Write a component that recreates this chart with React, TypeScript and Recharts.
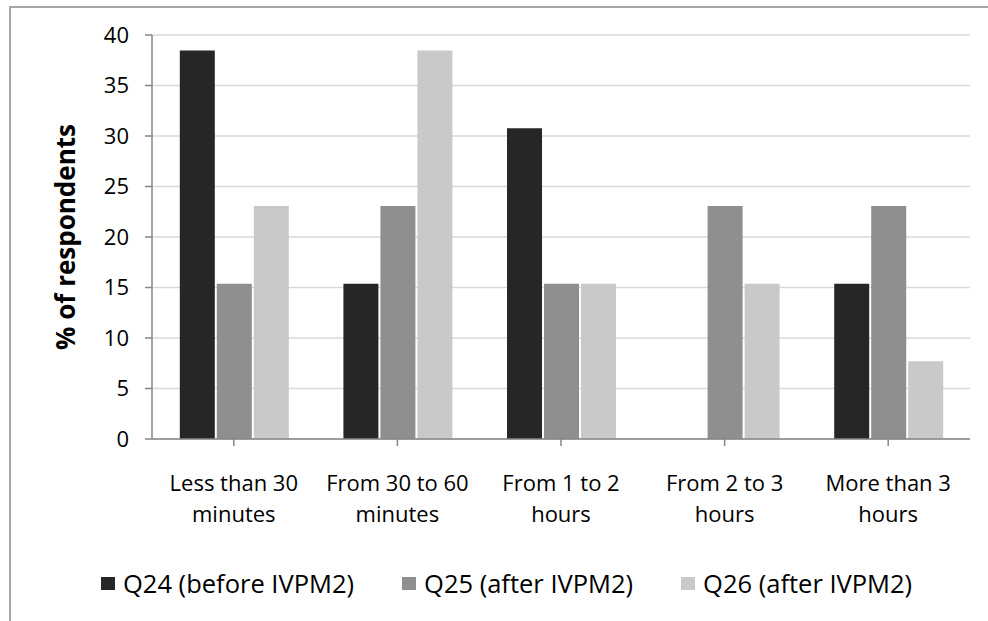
import React from 'react';
import { BarChart, Bar, XAxis, YAxis, CartesianGrid, Legend } from 'recharts';

const categories = [
  'Less than 30 minutes',
  'From 30 to 60 minutes',
  'From 1 to 2 hours',
  'From 2 to 3 hours',
  'More than 3 hours',
];
const tickLines = [
  ['Less than 30', 'minutes'],
  ['From 30 to 60', 'minutes'],
  ['From 1 to 2', 'hours'],
  ['From 2 to 3', 'hours'],
  ['More than 3', 'hours'],
];
const q24 = [38.46, 15.38, 30.77, 0, 15.38];
const q25 = [15.38, 23.08, 15.38, 23.08, 23.08];
const q26 = [23.08, 38.46, 15.38, 15.38, 7.69];
const yTicks = [0, 5, 10, 15, 20, 25, 30, 35, 40];

const series = [
  { dataKey: 'q24', name: 'Q24 (before IVPM2)', color: '#262626' },
  { dataKey: 'q25', name: 'Q25 (after IVPM2)', color: '#8f8f8f' },
  { dataKey: 'q26', name: 'Q26 (after IVPM2)', color: '#c9c9c9' },
];

const data = categories.map((name, i) => ({
  name,
  q24: q24[i],
  q25: q25[i],
  q26: q26[i],
}));

const FONT = '"Open Sans", sans-serif';

function CategoryTick(props: any) {
  const { x, y, payload } = props;
  const lines = tickLines[payload.index] ?? [payload.value];
  return (
    <text x={x} y={y + 43} textAnchor="middle" fill="#000" fontSize={22} fontFamily={FONT}>
      {lines.map((line, i) => (
        <tspan key={i} x={x} dy={i === 0 ? 0 : 31}>
          {line}
        </tspan>
      ))}
    </text>
  );
}

function LegendBox() {
  return (
    <div style={{ display: 'flex', alignItems: 'center', paddingLeft: 101, fontFamily: FONT, fontSize: 25.5, whiteSpace: 'nowrap' }}>
      {series.map((s, i) => (
        <div key={s.dataKey} style={{ display: 'flex', alignItems: 'center', marginRight: i < 2 ? 48 : 0 }}>
          <span style={{ width: 14, height: 13, background: s.color, display: 'inline-block', marginRight: 8 }} />
          <span>{s.name}</span>
        </div>
      ))}
    </div>
  );
}

export default function App() {
  return (
    <div style={{ position: 'absolute', left: 0, top: 0, width: 988, height: 621, background: '#fff', overflow: 'hidden' }}>
      <div
        style={{
          position: 'absolute',
          left: 9,
          top: 6,
          width: 1000,
          height: 700,
          borderLeft: '2px solid #a6a6a6',
          borderTop: '2px solid #a6a6a6',
        }}
      />
      <BarChart
        width={988}
        height={621}
        data={data}
        margin={{ top: 35, right: 18, bottom: 0, left: 0 }}
        barCategoryGap="17%"
        barGap={2}
      >
        <CartesianGrid vertical={false} stroke="#d9d9d9" strokeWidth={1.5} />
        <XAxis
          dataKey="name"
          interval={0}
          height={148}
          tick={<CategoryTick />}
          axisLine={{ stroke: '#868686', strokeWidth: 1.5 }}
          tickLine={{ stroke: '#868686', strokeWidth: 1.5 }}
          tickSize={7}
        />
        <YAxis
          width={152}
          domain={[0, 40]}
          ticks={yTicks}
          interval={0}
          tick={{ fontSize: 22, fill: '#000', fontFamily: FONT }}
          axisLine={{ stroke: '#868686', strokeWidth: 1.5 }}
          tickLine={{ stroke: '#868686', strokeWidth: 1.5 }}
          tickSize={7}
          tickMargin={16}
          label={{
            value: '% of respondents',
            angle: -90,
            position: 'insideLeft',
            offset: 66,
            style: { textAnchor: 'middle', fontSize: 26, fontWeight: 700, fontFamily: FONT, fill: '#000' },
          }}
        />
        <Legend
          verticalAlign="bottom"
          content={<LegendBox />}
          wrapperStyle={{ position: 'absolute', left: 0, top: 566, width: 988 }}
        />
        {series.map((s) => (
          <Bar key={s.dataKey} dataKey={s.dataKey} name={s.name} fill={s.color} isAnimationActive={false} />
        ))}
      </BarChart>
    </div>
  );
}
